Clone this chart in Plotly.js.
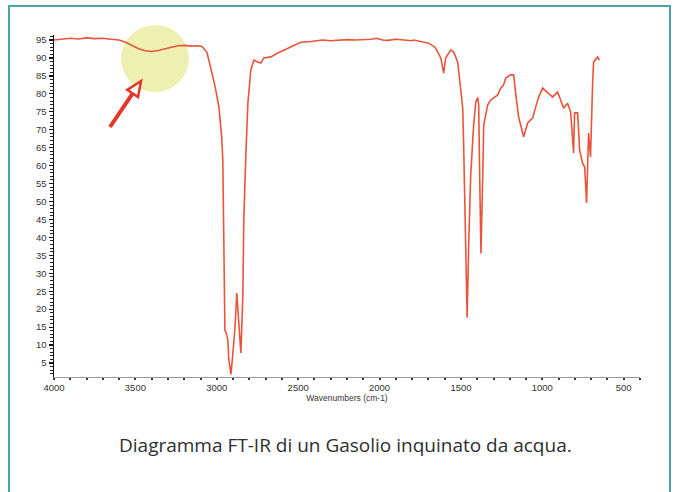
<!DOCTYPE html>
<html>
<head>
<meta charset="utf-8">
<script src="https://cdn.plot.ly/plotly-3.0.1.min.js"></script>
<style>
html,body{margin:0;padding:0;background:#fff;}
#chart{width:675px;height:492px;}
</style>
</head>
<body>
<div id="chart"></div>
<script>
// Wavenumbers (cm-1)
const wavenumbers = [4000,3950,3900,3850,3800,3750,3700,3650,3600,3560,3520,3480,3440,3400,3360,3320,3280,3240,3200,3160,3120,3090,3060,3036,3010,2987,2970,2963,2960,2956,2950,2944,2932,2926,2913,2901,2889,2877,2864,2852,2840,2834,2821,2809,2791,2772,2748,2729,2711,2668,2625,2588,2545,2484,2422,2350,2300,2250,2200,2150,2100,2050,2020,1980,1950,1900,1850,1800,1790,1747,1704,1686,1660,1643,1624,1606,1594,1563,1545,1520,1502,1489,1483,1471,1462,1452,1440,1422,1409,1397,1391,1385,1377,1366,1360,1336,1317,1274,1256,1238,1225,1195,1176,1164,1146,1121,1115,1090,1059,1041,1023,998,967,937,906,888,869,845,826,808,802,783,771,753,740,728,722,716,704,698,691,685,660,650];
// Transmittance (%)
const transmittance = [95.0,95.2,95.5,95.3,95.6,95.4,95.5,95.2,95.0,94.4,93.5,92.6,92.0,91.8,92.1,92.5,92.9,93.4,93.5,93.3,93.4,93.2,91.5,86.6,82.0,76.3,68.0,61.6,45.0,30.0,14.0,13.7,11.4,6.0,1.8,7.8,14.2,24.5,16.0,7.8,23.4,44.9,63.5,77.4,86.6,89.4,88.9,88.6,90.0,90.3,91.4,92.2,93.0,94.4,94.6,95.0,94.8,95.0,95.1,95.0,95.0,95.2,95.5,95.0,94.9,95.2,95.0,94.8,95.0,94.6,94.2,93.8,93.0,91.7,90.0,85.8,90.0,92.2,91.7,88.9,80.5,76.0,64.9,37.9,17.6,38.7,57.4,71.3,77.7,79.0,76.9,57.4,35.5,57.4,71.3,76.9,78.3,79.7,81.6,82.5,84.4,85.3,85.3,80.2,73.6,69.1,68.0,71.9,73.3,76.3,79.1,81.6,80.2,79.1,80.5,78.3,76.0,77.4,75.0,63.5,74.7,74.7,64.4,60.7,59.6,49.6,58.8,69.1,62.4,73.6,83.0,88.9,90.3,89.4];
const xTickVals = [4000,3500,3000,2500,2000,1500,1000,500];
const xTickText = ["4000","3500","3000","2500","2000","1500","1000","500"];
const yTickVals = [5,10,15,20,25,30,35,40,45,50,55,60,65,70,75,80,85,90,95];
const xTitle = "Wavenumbers (cm-1)";
const caption = "Diagramma FT-IR di un Gasolio inquinato da acqua.";

const W = 675, H = 492;
const M = {l:54, r:35, t:35, b:115};
const pw = W - M.l - M.r, ph = H - M.t - M.b;
const px = x => (x - M.l) / pw;          // pixel -> paper x
const py = y => (H - M.b - y) / ph;      // pixel -> paper y

// arrow geometry (pixel space)
const tail = [110,127], tip = [141,81];
const dx = tip[0]-tail[0], dy = tip[1]-tail[1];
const L = Math.hypot(dx,dy), ux = dx/L, uy = dy/L, nx = -uy, ny = ux;
const hl = 15, hw = 6.5;
const bc = [tip[0]-hl*ux, tip[1]-hl*uy];
const c1 = [bc[0]+hw*nx, bc[1]+hw*ny], c2 = [bc[0]-hw*nx, bc[1]-hw*ny];
const P = p => px(p[0]).toFixed(4) + ',' + py(p[1]).toFixed(4);

const shapes = [
  {type:'circle', xref:'paper', yref:'paper', layer:'below',
   x0:px(121), x1:px(189), y0:py(25), y1:py(92),
   fillcolor:'rgba(225,230,125,0.6)', line:{width:0}},
  {type:'line', xref:'paper', yref:'paper',
   x0:px(tail[0]), y0:py(tail[1]), x1:px(bc[0]+1*ux), y1:py(bc[1]+1*uy),
   line:{color:'#e2372a', width:4}},
  {type:'path', xref:'paper', yref:'paper',
   path:'M'+P(tip)+' L'+P(c1)+' L'+P(c2)+' Z',
   fillcolor:'#ffffff', line:{color:'#e2372a', width:2.5}},
  {type:'rect', xref:'paper', yref:'paper',
   x0:px(9), x1:px(670), y0:py(500), y1:py(6),
   line:{color:'#4aa5a8', width:2}, fillcolor:'rgba(0,0,0,0)'}
];

const trace = {
  x: wavenumbers, y: transmittance, type:'scatter', mode:'lines',
  line:{color:'#e8553a', width:1.6}, hoverinfo:'skip'
};

const layout = {
  width:W, height:H, margin:M,
  paper_bgcolor:'#ffffff', plot_bgcolor:'#ffffff',
  showlegend:false,
  font:{family:'Liberation Sans, Arial, sans-serif', color:'#333'},
  xaxis:{
    range:[4000,400], showgrid:false, zeroline:false,
    showline:true, linecolor:'#9a9a9a', linewidth:1,
    tickvals:xTickVals, ticktext:xTickText,
    ticks:'outside', ticklen:2, tickwidth:2, tickcolor:'#333',
    minor:{dtick:100, tick0:0, ticks:'outside', ticklen:2, tickwidth:2, tickcolor:'#333'},
    tickfont:{size:9.5, color:'#333', family:'Liberation Sans, Arial, sans-serif'},
    title:{text:xTitle, font:{size:8.5, color:'#333'}, standoff:2}
  },
  yaxis:{
    range:[1.1,96.4], showgrid:false, zeroline:false,
    showline:true, linecolor:'#111', linewidth:1.5,
    tickvals:yTickVals,
    ticks:'outside', ticklen:4, tickwidth:1.2, tickcolor:'#111',
    minor:{dtick:1, tick0:0, ticks:'outside', ticklen:3, tickwidth:1, tickcolor:'#222'},
    tickfont:{size:9.5, color:'#333', family:'Liberation Sans, Arial, sans-serif'},
    ticklabelstandoff:0
  },
  shapes: shapes,
  annotations:[
    {xref:'paper', yref:'paper', x:px(345), y:py(445), xanchor:'center', yanchor:'middle',
     text:caption, showarrow:false,
     font:{family:'Open Sans, sans-serif', size:19, color:'#2e2e2e'}}
  ]
};

Plotly.newPlot('chart', [trace], layout, {staticPlot:true, displayModeBar:false});
</script>
</body>
</html>
